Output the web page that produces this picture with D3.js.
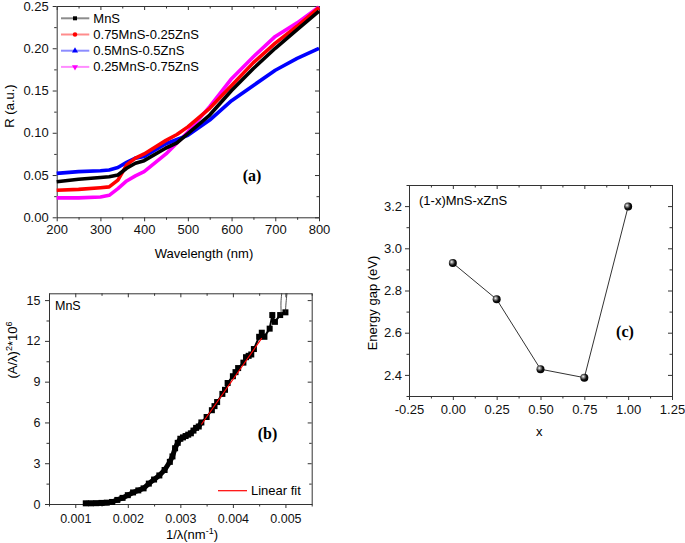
<!DOCTYPE html>
<html>
<head>
<meta charset="utf-8">
<script src="https://cdn.jsdelivr.net/npm/d3@7"></script>
<style>
  body { margin: 0; background: #fff; }
  svg { display: block; font-family: Arial, "Liberation Sans", sans-serif; }
  .axis path, .axis line { stroke: #333; }
  .axis text { fill: #111; }
</style>
</head>
<body>
<svg id="chart" width="685" height="543"></svg>
<script>
// Panel (a): reflectance vs wavelength
const wavelength = [200, 250, 300, 320, 340, 360, 380, 400, 450, 475, 500, 550, 600, 650, 700, 750, 800];
const rMnS   = [0.042, 0.045, 0.047, 0.048, 0.050, 0.058, 0.064, 0.067, 0.082, 0.088, 0.099, 0.121, 0.150, 0.176, 0.200, 0.222, 0.244];
const r075   = [0.032, 0.033, 0.035, 0.036, 0.044, 0.062, 0.070, 0.075, 0.091, 0.098, 0.107, 0.129, 0.156, 0.183, 0.206, 0.226, 0.248];
const r050   = [0.052, 0.054, 0.055, 0.056, 0.059, 0.065, 0.070, 0.072, 0.087, 0.092, 0.097, 0.115, 0.138, 0.156, 0.174, 0.188, 0.200];
const r025   = [0.023, 0.023, 0.024, 0.026, 0.034, 0.043, 0.049, 0.054, 0.075, 0.088, 0.101, 0.131, 0.164, 0.190, 0.214, 0.230, 0.249];
const seriesNames = ["MnS", "0.75MnS-0.25ZnS", "0.5MnS-0.5ZnS", "0.25MnS-0.75ZnS"];
const seriesColors = ["#000000", "#ff0000", "#0000ff", "#ff00ff"];
const seriesSymbols = [d3.symbolSquare, d3.symbolCircle, d3.symbolTriangle, "down"];

// Panel (b): Tauc plot for MnS
const bX = [0.00120, 0.00130, 0.00140, 0.00150, 0.00160, 0.00170, 0.00180, 0.00190, 0.00200, 0.00210,
            0.00220, 0.00230, 0.00240, 0.00250, 0.00260, 0.00270, 0.00280, 0.00285, 0.00290, 0.00295,
            0.00300, 0.00305, 0.00310, 0.00315, 0.00320, 0.00325, 0.00330, 0.00335, 0.00340, 0.00350,
            0.00360, 0.00365, 0.00370, 0.00380, 0.00385, 0.00390, 0.00400, 0.00405, 0.00410, 0.00420,
            0.00425, 0.00430, 0.00435, 0.00440, 0.00450, 0.00455, 0.00460, 0.00470, 0.00475, 0.00480,
            0.00490, 0.00500];
const bY = [0.05, 0.05, 0.06, 0.08, 0.10, 0.15, 0.30, 0.45, 0.65, 0.85,
            1.0, 1.15, 1.5, 1.8, 2.1, 2.5, 3.1, 3.5, 4.1, 4.5,
            4.8, 4.9, 5.0, 5.1, 5.2, 5.4, 5.6, 5.7, 6.0, 6.4,
            6.9, 7.2, 7.5, 8.1, 8.4, 8.9, 9.4, 9.7, 10.0, 10.4,
            10.8, 10.9, 11.0, 11.4, 12.3, 12.6, 12.3, 12.9, 13.9, 13.4,
            13.9, 14.1];
const tailA = [[0.00492, 14.0], [0.00491, 14.8], [0.00493, 15.5]];
const tailB = [[0.00500, 14.1], [0.00501, 14.8], [0.00503, 15.5]];
const fitX = [0.0034, 0.00455];
const fitY = [5.85, 12.2];

// Panel (c): energy gap vs composition
const compX = [0, 0.25, 0.5, 0.75, 1.0];
const gapEV = [2.93, 2.758, 2.427, 2.387, 3.198];

const svg = d3.select("#chart");
const defs = svg.append("defs");
const grad = defs.append("radialGradient").attr("id", "ball")
  .attr("cx", "40%").attr("cy", "40%").attr("r", "60%").attr("fx", "35%").attr("fy", "35%");
grad.append("stop").attr("offset", "0%").attr("stop-color", "#fff");
grad.append("stop").attr("offset", "25%").attr("stop-color", "#999");
grad.append("stop").attr("offset", "65%").attr("stop-color", "#111");
grad.append("stop").attr("offset", "100%").attr("stop-color", "#000");

// Draws the boxed frame with Origin-style ticks and returns scales
function frame(o) {
  const x = d3.scaleLinear().domain(o.xDomain).range([o.left, o.right]);
  const y = d3.scaleLinear().domain(o.yDomain).range([o.bottom, o.top]);
  const g = svg.append("g");
  const fs = o.fontSize + "px";

  const bottom = g.append("g").attr("class", "axis").attr("transform", `translate(0,${o.bottom})`)
    .call(d3.axisBottom(x).tickValues(o.xMajor).tickSize(4).tickSizeOuter(0).tickPadding(o.xPad).tickFormat(o.xFmt));
  g.append("g").attr("class", "axis").attr("transform", `translate(0,${o.bottom})`)
    .call(d3.axisBottom(x).tickValues(o.xMinor).tickSize(2.5).tickFormat(""))
    .select(".domain").remove();
  g.append("g").attr("class", "axis").attr("transform", `translate(0,${o.top})`)
    .call(d3.axisTop(x).tickValues(o.xMajor).tickSize(-4).tickSizeOuter(0).tickFormat(""));
  g.append("g").attr("class", "axis").attr("transform", `translate(0,${o.top})`)
    .call(d3.axisTop(x).tickValues(o.xMinor).tickSize(-2.5).tickFormat(""))
    .select(".domain").remove();

  const left = g.append("g").attr("class", "axis").attr("transform", `translate(${o.left},0)`)
    .call(d3.axisLeft(y).tickValues(o.yMajor).tickSize(4).tickSizeOuter(0).tickPadding(o.yPad).tickFormat(o.yFmt));
  g.append("g").attr("class", "axis").attr("transform", `translate(${o.left},0)`)
    .call(d3.axisLeft(y).tickValues(o.yMinor).tickSize(2.5).tickFormat(""))
    .select(".domain").remove();
  g.append("g").attr("class", "axis").attr("transform", `translate(${o.right},0)`)
    .call(d3.axisRight(y).tickValues(o.yMajor).tickSize(-4).tickSizeOuter(0).tickFormat(""));
  g.append("g").attr("class", "axis").attr("transform", `translate(${o.right},0)`)
    .call(d3.axisRight(y).tickValues(o.yMinor).tickSize(-2.5).tickFormat(""))
    .select(".domain").remove();

  bottom.selectAll("text").style("font-size", fs).style("font-family", "Arial, 'Liberation Sans'");
  left.selectAll("text").style("font-size", fs).style("font-family", "Arial, 'Liberation Sans'");
  return { x, y, g };
}

const label = (x, y, txt, size, extra) => {
  const t = svg.append("text").attr("x", x).attr("y", y)
    .attr("dominant-baseline", "central").style("font-size", size + "px").text(txt);
  if (extra) extra(t);
  return t;
};
const bold = (t) => t.attr("text-anchor", "middle").style("font-family", "'Times New Roman', 'Liberation Serif', serif").style("font-weight", "bold");

// ---------- (a) ----------
const pa = frame({
  left: 56.7, right: 319, top: 6, bottom: 217.3,
  xDomain: [200, 800], yDomain: [0, 0.25],
  xMajor: d3.range(200, 801, 100), xMinor: d3.range(250, 800, 100),
  yMajor: [0, 0.05, 0.10, 0.15, 0.20, 0.25], yMinor: [0.025, 0.075, 0.125, 0.175, 0.225],
  xFmt: d3.format("d"), yFmt: (d) => d.toFixed(2), fontSize: 13, xPad: 3, yPad: 4
});
const rSeries = [rMnS, r075, r050, r025];
const lineA = d3.line().x((d, i) => pa.x(wavelength[i])).y((d) => pa.y(d));
// draw in reverse so black sits on top like the original
[3, 2, 1, 0].forEach((k) => {
  pa.g.append("path").datum(rSeries[k])
    .attr("d", lineA).attr("fill", "none")
    .attr("stroke", seriesColors[k]).attr("stroke-width", 3.6)
    .attr("stroke-linejoin", "round");
});

const symbolPath = (s, size) =>
  s === "down" ? d3.symbol(d3.symbolTriangle, size)() : d3.symbol(s, size)();
const legA = pa.g.append("g");
seriesNames.forEach((name, k) => {
  const yy = 18.3 + k * 16.2;
  legA.append("line").attr("x1", 61).attr("x2", 89.3).attr("y1", yy).attr("y2", yy)
    .attr("stroke", seriesColors[k]).attr("stroke-opacity", 0.45).attr("stroke-width", 2);
  legA.append("path").attr("d", symbolPath(seriesSymbols[k], 16))
    .attr("transform", `translate(75,${yy})` + (seriesSymbols[k] === "down" ? " rotate(180)" : ""))
    .attr("fill", seriesColors[k]);
  legA.append("text").attr("x", 93.3).attr("y", yy).attr("dominant-baseline", "central")
    .style("font-size", "13px").text(name);
});
label(252, 175, "(a)", 16, bold);
label(204, 253, "Wavelength (nm)", 13, (t) => t.attr("text-anchor", "middle"));
label(9, 106, "R (a.u.)", 13, (t) => t.attr("text-anchor", "middle").attr("transform", "rotate(-90,9,106)"));

// ---------- (b) ----------
const pb = frame({
  left: 49, right: 311.7, top: 293.3, bottom: 504,
  xDomain: [0.0005, 0.0055], yDomain: [0, 15.5],
  xMajor: [0.001, 0.002, 0.003, 0.004, 0.005], xMinor: [0.0005, 0.0015, 0.0025, 0.0035, 0.0045, 0.0055],
  yMajor: [0, 3, 6, 9, 12, 15], yMinor: [1.5, 4.5, 7.5, 10.5, 13.5],
  xFmt: (d) => d.toFixed(3), yFmt: d3.format("d"), fontSize: 12.5, xPad: 6, yPad: 4.5
});
const bPts = bX.map((v, i) => [v, bY[i]]);
const lineB = d3.line().x((d) => pb.x(d[0])).y((d) => pb.y(d[1]));
pb.g.append("path").datum(bPts.filter((d) => d[0] <= 0.0034))
  .attr("d", lineB).attr("fill", "none").attr("stroke", "#000").attr("stroke-width", 5);
pb.g.append("path").datum(bPts).attr("d", lineB).attr("fill", "none").attr("stroke", "#000").attr("stroke-width", 2);
pb.g.selectAll("rect.pt").data(bPts).join("rect").attr("class", "pt")
  .attr("x", (d) => pb.x(d[0]) - 3).attr("y", (d) => pb.y(d[1]) - 3)
  .attr("width", 6).attr("height", 6).attr("fill", "#000");
[tailA, tailB].forEach((t) => {
  pb.g.append("path").datum(t).attr("d", lineB.curve(d3.curveBasis)).attr("fill", "none")
    .attr("stroke", "#222").attr("stroke-width", 0.8);
});
lineB.curve(d3.curveLinear);
pb.g.append("path").datum(fitX.map((v, i) => [v, fitY[i]])).attr("d", lineB)
  .attr("fill", "none").attr("stroke", "#ff0000").attr("stroke-width", 1.2);
pb.g.append("line").attr("x1", 218).attr("x2", 247).attr("y1", 490.7).attr("y2", 490.7)
  .attr("stroke", "#ff0000").attr("stroke-width", 1.2);
label(251, 490.7, "Linear fit", 13);
label(55, 306, "MnS", 12.5);
label(267.5, 433.5, "(b)", 16, bold);
const xlb = svg.append("text").attr("x", 192).attr("y", 539).attr("text-anchor", "middle").style("font-size", "13px");
xlb.append("tspan").text("1/λ(nm");
xlb.append("tspan").attr("dy", -5).style("font-size", "9px").text("-1");
xlb.append("tspan").attr("dy", 5).text(")");
const ylb = svg.append("text").attr("transform", "translate(17,350) rotate(-90)")
  .attr("text-anchor", "middle").style("font-size", "13px");
ylb.append("tspan").text("(A/λ)");
ylb.append("tspan").attr("dy", -5).style("font-size", "9px").text("2");
ylb.append("tspan").attr("dy", 5).text("*10");
ylb.append("tspan").attr("dy", -5).style("font-size", "9px").text("6");

// ---------- (c) ----------
const pc = frame({
  left: 409, right: 672, top: 185, bottom: 396,
  xDomain: [-0.25, 1.25], yDomain: [2.3, 3.3],
  xMajor: [-0.25, 0, 0.25, 0.5, 0.75, 1.0, 1.25], xMinor: [-0.125, 0.125, 0.375, 0.625, 0.875, 1.125],
  yMajor: [2.4, 2.6, 2.8, 3.0, 3.2], yMinor: [2.3, 2.5, 2.7, 2.9, 3.1, 3.3],
  xFmt: (d) => d.toFixed(2), yFmt: (d) => d.toFixed(1), fontSize: 13, xPad: 5, yPad: 3
});
const cPts = compX.map((v, i) => [v, gapEV[i]]);
pc.g.append("path").datum(cPts)
  .attr("d", d3.line().x((d) => pc.x(d[0])).y((d) => pc.y(d[1])))
  .attr("fill", "none").attr("stroke", "#333").attr("stroke-width", 1);
pc.g.selectAll("circle.ball").data(cPts).join("circle").attr("class", "ball")
  .attr("cx", (d) => pc.x(d[0])).attr("cy", (d) => pc.y(d[1])).attr("r", 4)
  .attr("fill", "url(#ball)");
label(419, 200.5, "(1-x)MnS-xZnS", 13);
label(625, 331, "(c)", 16, bold);
label(539.3, 431.7, "x", 13, (t) => t.attr("text-anchor", "middle"));
label(372, 303, "Energy gap (eV)", 13, (t) => t.attr("text-anchor", "middle").attr("transform", "rotate(-90,372,303)"));
</script>
</body>
</html>
